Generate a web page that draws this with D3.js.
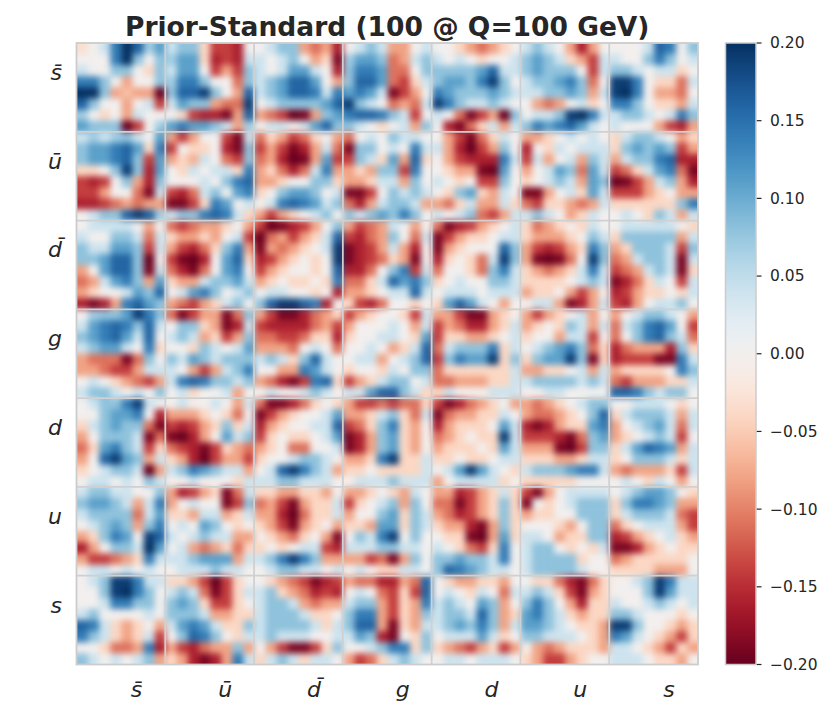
<!DOCTYPE html>
<html>
<head>
<meta charset="utf-8">
<script src="https://cdn.jsdelivr.net/npm/d3@7"></script>
<style>
  body { margin: 0; background: #fff; }
  #wrap { position: relative; width: 831px; height: 715px; }
  #heat { position: absolute; overflow: hidden; }
  #heat svg { position: absolute; filter: blur(3px); }
  #chart { position: absolute; left: 0; top: 0; }
  text { font-family: "DejaVu Sans", sans-serif; fill: #262626; }
</style>
</head>
<body>
<div id="wrap">
  <div id="heat"></div>
  <svg id="chart" width="831" height="715"></svg>
</div>
<script>
// flavours along both axes
const flavors = ["s̄", "ū", "d̄", "g", "d", "u", "s"];
const colorTicks = [-0.2, -0.15, -0.1, -0.05, 0, 0.05, 0.1, 0.15, 0.2];

// covariance blocks, in units of 0.01, 8x8 samples per block.
// only the upper triangle is kept, the matrix is symmetric
const blocksSbar = [
  [[-3,0,4,14,22,16,7,11],[0,0,0,14,22,8,0,8],[4,0,0,8,8,0,-4,8],[14,14,8,0,-8,0,0,8],[22,22,8,-8,-6,-8,-8,-22],[16,8,0,0,-8,0,4,-14],[7,0,-4,0,-8,4,0,0],[11,8,8,8,-22,-14,0,7]],
  [[4,8,8,-4,-14,-14,-16,0],[7,11,11,-4,-16,-14,-16,4],[4,11,11,0,-14,-8,-14,8],[7,14,14,8,0,0,-11,8],[8,16,16,19,8,0,-8,16],[4,11,8,8,-8,-11,-11,19],[0,-4,-14,-16,-16,-19,-8,16],[11,14,11,11,8,4,-8,7]],
  [[0,4,8,8,-8,-11,-8,-16],[4,0,4,8,0,-8,-4,-19],[4,0,4,11,11,4,0,-16],[4,8,11,16,16,11,0,-8],[4,8,11,16,16,14,4,14],[0,4,8,8,8,8,11,16],[-8,-11,-14,-22,-19,-8,8,11],[0,4,4,0,4,11,16,8]],
  [[0,4,8,4,-8,-8,0,4],[7,11,11,8,-11,-8,4,8],[8,14,14,11,-11,-11,0,8],[8,16,16,11,-11,-14,-4,4],[11,14,11,4,-19,-14,-8,0],[19,8,4,0,-11,-8,-11,4],[14,16,16,14,8,4,-14,0],[8,4,0,-4,0,4,-8,8]],
  [[0,0,-4,-8,-11,-8,-4,0],[4,0,4,0,-4,0,0,4],[8,8,8,8,11,16,4,4],[8,11,11,8,14,19,8,0],[14,11,8,8,8,11,8,4],[19,14,8,4,4,8,4,0],[4,0,-11,-19,-14,-8,-22,8],[0,-16,-19,-11,-4,4,-8,4]],
  [[4,8,4,0,-8,-16,-8,0],[8,11,8,4,-4,-8,-14,4],[8,11,8,8,8,0,-14,4],[4,8,8,11,14,8,-11,0],[4,4,8,8,11,8,-8,4],[0,-8,-11,-8,0,4,-4,0],[0,4,4,8,19,22,14,4],[8,14,11,14,16,11,4,0]],
  [[0,0,0,4,16,14,0,8],[4,0,0,8,14,8,0,4],[8,8,4,0,4,4,-4,0],[19,19,14,0,-4,-4,-11,4],[19,22,14,0,-8,-8,-11,0],[14,14,8,0,-4,-4,-8,4],[4,8,8,4,0,4,14,8],[4,0,0,0,-8,-14,-16,-8]]
];
const blocksUbar = [
  [[-8,-14,-8,0,0,-14,-19,4],[-14,0,-4,-4,0,-16,-19,8],[-8,-4,-7,4,0,-11,-14,8],[0,-4,4,0,4,4,-4,14],[0,0,0,4,0,8,14,16],[-14,-16,-11,4,8,0,11,14],[-19,-19,-14,-4,14,11,0,4],[4,8,8,14,16,14,4,-4]],
  [[-11,-4,-8,-14,-11,-4,0,-8],[-14,-8,-14,-19,-16,-8,4,-11],[-11,-8,-16,-22,-19,-8,11,-14],[-8,-4,-11,-16,-11,4,14,-8],[-8,-8,-4,0,0,8,8,-4],[-4,0,8,11,11,8,0,4],[0,4,14,16,14,11,4,8],[-8,-14,-8,-4,0,4,8,0]],
  [[-11,0,4,0,8,4,4,0],[-19,8,8,0,4,0,14,4],[-14,8,4,-4,11,-8,16,-4],[-8,-4,-8,8,8,-14,14,0],[-8,-8,-4,4,4,-8,8,0],[-19,-19,-14,0,8,4,8,4],[-11,-16,-8,4,8,8,4,-8],[8,4,8,11,8,14,8,0]],
  [[0,-8,-14,-19,-11,-4,4,0],[4,-8,-16,-22,-14,-8,8,0],[0,-8,-14,-16,-16,-16,14,4],[0,-4,-8,-8,-19,-22,11,0],[4,0,-4,0,-14,-14,8,0],[0,-4,8,11,-4,-8,4,0],[-8,-11,-4,4,-8,-8,4,-4],[4,0,4,8,-11,-14,-8,4]],
  [[-8,-8,-4,0,4,0,4,0],[-16,0,-4,4,0,4,4,4],[-14,4,-8,0,4,-8,8,4],[-8,0,4,11,8,-11,11,4],[-4,0,4,8,4,-8,11,8],[-19,-19,-8,0,4,-4,11,4],[-11,-14,-4,-4,-8,-11,-8,4],[4,8,4,0,-8,-4,4,0]],
  [[-4,4,8,8,4,0,-8,-4],[-4,8,11,8,11,8,-14,-8],[-8,4,8,8,14,16,-16,-16],[-14,-11,-4,4,11,14,-11,-19],[-22,-19,-14,-8,4,8,-8,-16],[-14,-14,-14,-8,-4,0,-8,-8],[-4,-4,-4,-4,-4,-4,8,14],[0,4,0,-4,8,4,-8,4]]
];
const blocksDbar = [
  [[-14,-22,-19,-16,-14,-8,0,8],[-22,-11,-8,-14,-8,-4,4,16],[-19,-8,-11,-8,-4,0,4,19],[-16,-14,-8,-4,0,-4,0,19],[-14,-8,-4,0,0,-4,0,16],[-8,-4,0,-4,-4,0,-4,14],[0,4,4,0,0,-4,0,-16],[8,16,19,19,16,14,-16,0]],
  [[-8,-14,-11,-8,4,0,-8,0],[-14,-16,-11,-8,8,0,-11,4],[-19,-16,-14,-8,4,-8,-16,0],[-19,-16,-14,-11,-4,-8,-19,0],[-16,-16,-11,0,8,14,-14,4],[-11,-11,-4,4,16,11,14,8],[-8,-8,-4,0,4,4,16,4],[-4,-14,-16,-11,0,0,-4,0]],
  [[-11,-19,-16,-14,-8,-4,0,4],[-19,-14,-8,-4,-4,0,4,4],[-19,-8,-4,0,0,0,16,8],[-16,-4,0,-4,-11,4,19,8],[-11,0,0,-4,-11,8,14,4],[-4,0,4,0,0,8,8,4],[0,4,4,4,0,4,4,4],[-4,11,16,11,4,0,-8,0]],
  [[-4,-11,-8,-4,0,-4,4,0],[-4,-8,-8,-8,-4,0,8,4],[-8,-14,-16,-14,-8,-4,14,8],[-8,-19,-22,-19,-11,0,19,8],[-4,-8,-11,-8,-4,4,14,4],[-4,-4,-4,-4,0,4,8,4],[-8,-4,-4,0,-8,-14,-8,0],[0,4,4,-8,-19,-16,-8,4]],
  [[0,4,4,4,4,4,0,-4],[-4,8,8,8,8,8,-8,4],[-8,-4,8,8,8,4,-14,8],[-11,-8,4,8,8,4,-19,4],[-14,-11,-8,4,8,4,-19,-4],[-19,-16,-11,-4,4,0,-14,4],[-16,-14,-8,-4,-4,0,-4,4],[-14,-16,-8,0,4,4,8,0]]
];
const blocksG = [
  [[-14,-8,-4,0,0,-4,-14,4],[-8,0,0,0,4,0,-8,4],[-4,0,0,4,4,0,-4,11],[0,0,4,0,-8,-4,4,16],[0,4,4,-8,0,4,8,16],[-4,0,0,-4,4,0,8,8],[-14,-8,-4,4,8,8,0,4],[4,4,11,16,16,8,4,-4]],
  [[-8,-8,-14,-19,-19,-8,-4,0],[-14,-8,-11,-16,-16,-8,-4,4],[-14,-4,-4,-8,-8,-4,0,4],[-11,4,8,8,8,14,-4,4],[-14,8,14,11,11,19,-4,8],[-11,-4,-4,-4,-4,-4,-4,4],[-11,-11,-8,-8,-8,-4,-4,4],[-4,4,0,0,0,4,4,4]],
  [[-8,-14,-8,-4,0,4,-8,0],[-8,-4,0,-4,8,4,-8,4],[-4,0,0,-8,4,4,-14,0],[0,4,8,11,14,8,-11,-4],[-4,8,11,11,19,8,-19,-4],[-8,-8,-4,-4,0,4,-8,4],[4,8,8,8,8,4,8,4],[0,0,4,4,0,0,0,0]],
  [[-8,0,4,8,8,4,0,-8],[-11,4,8,14,16,11,0,-14],[-11,0,8,14,16,8,4,-11],[-16,-11,-8,-8,-8,-16,8,-4],[-16,-14,-14,-14,-19,-19,14,4],[-8,-4,-4,-4,-4,0,14,8],[-11,-14,-8,-8,-8,-4,-4,4],[16,16,14,8,4,8,8,0]]
];
const blocksD = [
  [[-14,-19,-16,-11,-8,-4,0,-8],[-19,-11,-8,-8,-4,-4,4,0],[-16,-8,-4,-4,-4,0,11,4],[-11,-8,-4,0,-4,-4,19,4],[-8,-4,-4,-4,0,-4,11,4],[-4,-4,0,-4,-4,0,4,4],[0,4,11,19,11,4,0,-4],[-8,0,4,4,4,4,-4,0]],
  [[-8,-11,-8,-4,0,4,8,8],[-8,-11,-11,-8,-4,0,8,16],[-16,-19,-16,-8,-4,-4,11,14],[-14,-14,-14,-16,-19,-11,8,11],[-8,-8,-8,-19,-22,-14,8,8],[-4,-4,-4,-8,-8,-4,4,4],[4,8,8,8,11,14,14,4],[-4,-4,-4,-4,-4,0,0,0]],
  [[0,0,4,4,4,0,-4,0],[-4,4,8,8,8,4,-8,4],[-8,0,4,8,11,4,-11,4],[-8,-4,0,4,8,4,-14,0],[-4,4,11,16,14,11,-8,4],[-4,0,8,8,8,4,-4,4],[-8,-11,-8,-8,-8,-4,-14,4],[0,4,0,-4,4,0,-8,0]]
];
const blocksU = [
  [[-14,-19,-8,0,4,4,4,4],[-19,0,-4,0,4,8,8,8],[-8,-4,-4,0,0,8,8,8],[0,0,0,-4,-8,0,8,8],[4,4,0,-8,-4,-4,8,8],[4,8,8,0,-4,0,-4,4],[4,8,8,8,8,-4,0,0],[4,8,8,8,8,4,0,0]],
  [[0,4,8,11,11,8,0,-4],[-4,8,14,14,11,8,-8,-8],[-4,4,8,8,8,4,-11,-14],[-11,-4,0,4,4,4,-8,-14],[-16,-14,-8,-4,0,4,-4,-8],[-19,-19,-16,-8,-4,0,-4,-4],[-11,-8,-4,-4,-4,-4,-4,0],[-4,-4,-4,-4,-8,-8,-8,0]]
];
const blocksS = [
  [[0,0,4,8,19,14,4,4],[0,0,0,8,19,11,4,4],[4,0,0,4,8,4,0,4],[8,8,4,0,0,0,-4,0],[19,19,8,0,0,-4,-8,-4],[14,11,4,0,-4,-8,-14,-4],[4,4,0,-4,-8,-14,-4,-8],[4,4,4,0,-4,-4,-8,0]]
];

const upper = [blocksSbar, blocksUbar, blocksDbar, blocksG, blocksD, blocksU, blocksS];
const nb = 8, n = flavors.length * nb;

// fill the full matrix from the upper triangle
const matrix = Array.from({ length: n }, () => new Array(n).fill(0));
upper.forEach((row, i) => {
  row.forEach((blk, k) => {
    const j = i + k;
    blk.forEach((r, a) => r.forEach((v, b) => {
      matrix[i * nb + a][j * nb + b] = v / 100;
      matrix[j * nb + b][i * nb + a] = v / 100;
    }));
  });
});
const cells = [];
matrix.forEach((r, i) => r.forEach((v, j) => cells.push({ row: i, col: j, value: v })));

const plotLeft = 76.5, plotTop = 43, size = 621.5;
const pad = 10;   // extra margin so the softening does not fade at the frame
const color = d3.scaleSequential(d3.interpolateRdBu).domain([-0.2, 0.2]).clamp(true);

// heatmap layer, softened with a css blur, clipped to the plot area
const heat = d3.select('#heat')
  .style('left', plotLeft + 'px').style('top', plotTop + 'px')
  .style('width', size + 'px').style('height', size + 'px');
const heatSvg = heat.append('svg')
  .attr('width', size + 2 * pad).attr('height', size + 2 * pad)
  .style('left', -pad + 'px').style('top', -pad + 'px');

const hx = d3.scaleBand().domain(d3.range(n)).range([pad, pad + size]);
const hy = d3.scaleBand().domain(d3.range(n)).range([pad, pad + size]);
const bw = hx.bandwidth();

heatSvg.selectAll('rect')
  .data(cells)
  .join('rect')
  .attr('x', d => d.col === 0 ? 0 : hx(d.col))
  .attr('y', d => d.row === 0 ? 0 : hy(d.row))
  .attr('width', d => bw + 0.4 + (d.col === 0 || d.col === n - 1 ? pad : 0))
  .attr('height', d => bw + 0.4 + (d.row === 0 || d.row === n - 1 ? pad : 0))
  .attr('fill', d => color(d.value));

const svg = d3.select('#chart');
const xBlock = d3.scaleBand().domain(flavors).range([plotLeft, plotLeft + size]);
const yBlock = d3.scaleBand().domain(flavors).range([plotTop, plotTop + size]);

// block separators
const grid = svg.append('g').attr('stroke', '#d0d0d0').attr('stroke-width', 1.8);
flavors.slice(1).forEach(f => {
  grid.append('line').attr('x1', xBlock(f)).attr('x2', xBlock(f))
    .attr('y1', plotTop).attr('y2', plotTop + size);
  grid.append('line').attr('y1', yBlock(f)).attr('y2', yBlock(f))
    .attr('x1', plotLeft).attr('x2', plotLeft + size);
});

// frame
svg.append('rect')
  .attr('x', plotLeft).attr('y', plotTop)
  .attr('width', size).attr('height', size)
  .attr('fill', 'none').attr('stroke', '#cccccc').attr('stroke-width', 1.8);

// tick labels (they sit a little off the block centres in the original)
svg.append('g').selectAll('text')
  .data(flavors).join('text')
  .attr('x', 62)
  .attr('y', f => yBlock(f) + yBlock.bandwidth() / 2 - 7.5)
  .attr('text-anchor', 'end')
  .attr('font-size', 22)
  .attr('font-style', 'italic')
  .text(f => f);

svg.append('g').selectAll('text')
  .data(flavors).join('text')
  .attr('x', f => xBlock(f) + xBlock.bandwidth() / 2 + 15.5)
  .attr('y', 697)
  .attr('text-anchor', 'middle')
  .attr('font-size', 22)
  .attr('font-style', 'italic')
  .text(f => f);

// title
svg.append('text')
  .attr('x', plotLeft + size / 2)
  .attr('y', 36)
  .attr('text-anchor', 'middle')
  .attr('font-size', 26.5)
  .attr('font-weight', 'bold')
  .text('Prior-Standard (100 @ Q=100 GeV)');

// colour bar
const cbX = 725.5, cbW = 30.5;
const cbY = d3.scaleLinear().domain([-0.2, 0.2]).range([plotTop + size, plotTop]);
const grad = svg.append('defs').append('linearGradient')
  .attr('id', 'cbgrad').attr('x1', 0).attr('x2', 0).attr('y1', 1).attr('y2', 0);
d3.range(0, 1.0001, 0.02).forEach(t => {
  grad.append('stop').attr('offset', t).attr('stop-color', color(-0.2 + 0.4 * t));
});
svg.append('rect')
  .attr('x', cbX).attr('y', plotTop)
  .attr('width', cbW).attr('height', size)
  .attr('fill', 'url(#cbgrad)')
  .attr('stroke', '#cccccc').attr('stroke-width', 1.5);

const cbAxis = svg.append('g');
cbAxis.selectAll('line').data(colorTicks).join('line')
  .attr('x1', cbX + cbW + 0.8).attr('x2', cbX + cbW + 5.5)
  .attr('y1', d => cbY(d)).attr('y2', d => cbY(d))
  .attr('stroke', '#262626').attr('stroke-width', 1.2);
cbAxis.selectAll('text').data(colorTicks).join('text')
  .attr('x', cbX + cbW + 14)
  .attr('y', d => cbY(d))
  .attr('dy', '0.35em')
  .attr('font-size', 15.5)
  .text(d => d3.format('.2f')(d));
</script>
</body>
</html>
